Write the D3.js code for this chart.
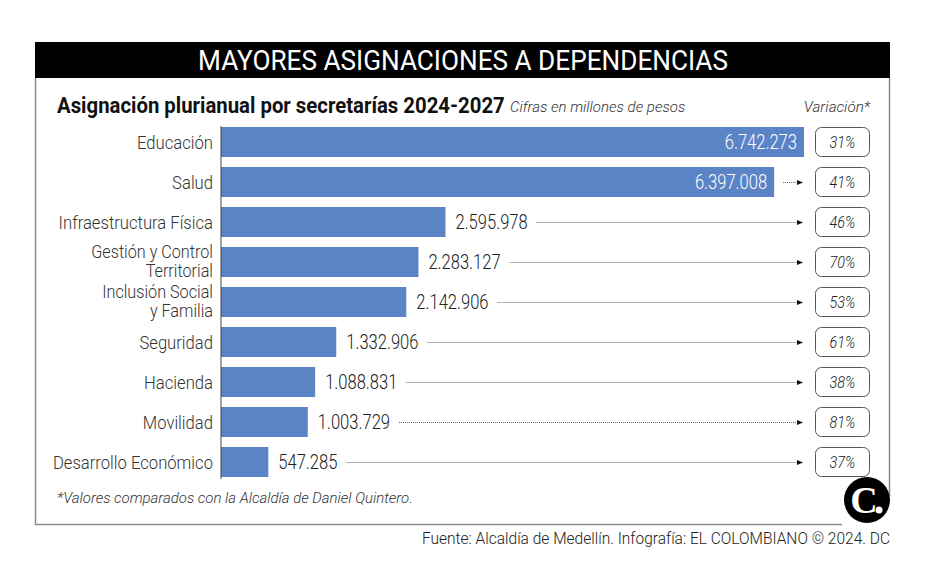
<!DOCTYPE html>
<html><head><meta charset="utf-8">
<script src="https://cdn.jsdelivr.net/npm/d3@7"></script>
<style>
html,body{margin:0;padding:0;background:#fff;}
</style></head>
<body>
<svg id="chart" width="929" height="587"></svg>
<script>
const categories = ["Educación","Salud","Infraestructura Física","Gestión y Control|Territorial","Inclusión Social|y Familia","Seguridad","Hacienda","Movilidad","Desarrollo Económico"];
const values = [6742273,6397008,2595978,2283127,2142906,1332906,1088831,1003729,547285];
const valueLabels = ["6.742.273","6.397.008","2.595.978","2.283.127","2.142.906","1.332.906","1.088.831","1.003.729","547.285"];
const variation = ["31%","41%","46%","70%","53%","61%","38%","81%","37%"];

const svg = d3.select("#chart");
const FONT = "Roboto, 'Noto Sans', sans-serif";

function ctext(g, x, y, str, opts) {
  return g.append("text")
    .attr("transform", `translate(${x},${y}) scale(${opts.sx||0.9},1)`)
    .attr("text-anchor", opts.anchor||"start")
    .style("font-family", opts.family||FONT)
    .style("font-size", (opts.size||18)+"px")
    .style("font-weight", opts.weight||300)
    .style("font-style", opts.style||"normal")
    .attr("fill", opts.fill||"#222")
    .text(str);
}

// frame
svg.append("rect").attr("x",35).attr("y",42).attr("width",855).attr("height",36).attr("fill","#000");
svg.append("path").attr("d","M35.5,78 V524.5 H842").attr("fill","none").attr("stroke","#8a8a8a").attr("stroke-width",1.5);
svg.append("path").attr("d","M889.5,78 V496").attr("fill","none").attr("stroke","#8a8a8a").attr("stroke-width",1.5);

ctext(svg, 463, 70, "MAYORES ASIGNACIONES A DEPENDENCIAS", {anchor:"middle", size:27, fill:"#fff", sx:0.97, weight:400});
ctext(svg, 57, 113, "Asignación plurianual por secretarías 2024-2027", {size:22, weight:"bold", fill:"#111", sx:0.925});
ctext(svg, 510, 112, "Cifras en millones de pesos", {size:15.5, style:"italic", fill:"#333", sx:0.97});
ctext(svg, 870, 112, "Variación*", {size:15.5, style:"italic", fill:"#333", anchor:"end", sx:0.98});

// scales
const x = d3.scaleLinear().domain([0, values[0]]).range([221, 804]);
const y = d3.scaleBand().domain(d3.range(categories.length)).range([122, 482]).paddingInner(0.25).paddingOuter(0.125);

// bars
svg.append("g").selectAll("rect").data(values).join("rect")
  .attr("x", x(0))
  .attr("y", (d,i)=>y(i))
  .attr("width", d=>x(d)-x(0))
  .attr("height", y.bandwidth())
  .attr("fill","#5a84c5");

// axis line
svg.append("line").attr("x1",221).attr("x2",221).attr("y1",126).attr("y2",479).attr("stroke","#444").attr("stroke-width",1);

// arrow marker
svg.append("defs").append("marker").attr("id","arr").attr("viewBox","0 0 10 10")
  .attr("refX",10).attr("refY",5).attr("markerWidth",10).attr("markerHeight",6).attr("markerUnits","userSpaceOnUse").attr("orient","auto")
  .append("path").attr("d","M0,1 L10,5 L0,9 Z").attr("fill","#111");

const VSX = 0.85;
values.forEach((v,i)=>{
  const cy = y(i) + y.bandwidth()/2;
  const inside = i < 2;
  let t;
  if (inside) {
    t = ctext(svg, x(v)-7, cy+7, valueLabels[i], {size:19.5, fill:"#fff", anchor:"end", sx:VSX});
  } else {
    t = ctext(svg, x(v)+10, cy+7, valueLabels[i], {size:19.5, fill:"#222", sx:VSX});
  }
  const bb = t.node().getBBox();
  const startX = inside ? x(v)+9 : x(v)+10 + bb.width*VSX + 9;
  if (i > 0) {
    svg.append("line").attr("x1", startX).attr("x2", 803).attr("y1", cy+0.5).attr("y2", cy+0.5)
      .attr("stroke","#666").attr("stroke-width",1).attr("stroke-dasharray","1,1")
      .attr("marker-end","url(#arr)");
  }
  const parts = categories[i].split("|");
  if (parts.length === 1) {
    ctext(svg, 213, cy+7, parts[0], {size:18.5, fill:"#333", anchor:"end"});
  } else {
    ctext(svg, 213, cy-4, parts[0], {size:18, fill:"#333", anchor:"end"});
    ctext(svg, 213, cy+15, parts[1], {size:18, fill:"#333", anchor:"end"});
  }
  svg.append("rect").attr("x",815.5).attr("y",cy-14.5).attr("width",54).attr("height",29).attr("rx",6)
    .attr("fill","#fff").attr("stroke","#555").attr("stroke-width",1);
  ctext(svg, 842.5, cy+6, variation[i], {size:16, style:"italic", fill:"#222", anchor:"middle", sx:0.9});
});

ctext(svg, 57, 503, "*Valores comparados con la Alcaldía de Daniel Quintero.", {size:15.5, style:"italic", fill:"#333", sx:0.965});
ctext(svg, 890, 544, "Fuente: Alcaldía de Medellín. Infografía: EL COLOMBIANO © 2024. DC", {size:16, fill:"#222", anchor:"end", sx:0.97});

// logo
svg.append("circle").attr("cx",867).attr("cy",500).attr("r",23).attr("fill","#000");
svg.append("text").attr("x",864).attr("y",513).attr("text-anchor","middle")
  .style("font-family","'Liberation Serif','DejaVu Serif',serif").style("font-weight","bold").style("font-size","38px")
  .attr("fill","#fff").text("C");
svg.append("circle").attr("cx",879).attr("cy",510).attr("r",3.5).attr("fill","#fff");
</script>
</body></html>
